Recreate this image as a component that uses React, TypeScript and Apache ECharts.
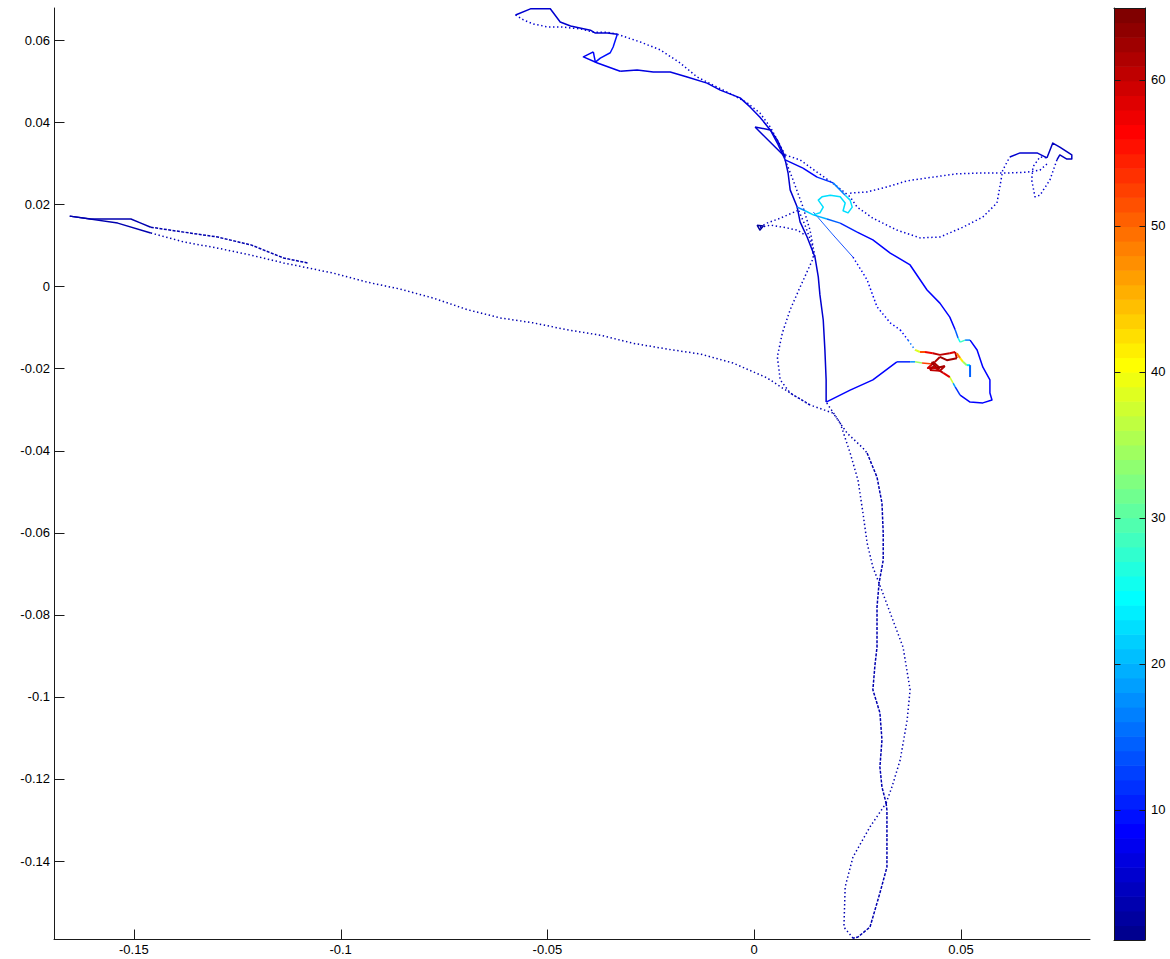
import React, { useEffect, useRef } from "react";
import * as echarts from "echarts";

// ---- axes ----
const xTicks = [-0.15, -0.1, -0.05, 0, 0.05];
const yTicks = [0.06, 0.04, 0.02, 0, -0.02, -0.04, -0.06, -0.08, -0.1, -0.12, -0.14];
const colorTicks = [10, 20, 30, 40, 50, 60];
const xRange = [-0.1693, 0.0812];
const yRange = [-0.159, 0.0678];
const colorRange = [1.1, 64.9];

// ---- trajectory pieces: [x, y, value] ----
const leftUpperSolid = [[-0.1655, 0.0171, 4], [-0.1604, 0.0164, 4], [-0.1556, 0.0164, 4], [-0.1507, 0.0164, 4], [-0.1483, 0.0154, 4], [-0.1459, 0.0144, 4]];
const leftUpperDashed = [[-0.1459, 0.0144, 4], [-0.1379, 0.0132, 4], [-0.1297, 0.012, 4], [-0.1217, 0.0101, 4], [-0.1138, 0.0069, 4], [-0.108, 0.0057, 4]];
const leftLowerSolid = [[-0.1655, 0.0171, 4], [-0.1539, 0.0154, 4], [-0.1459, 0.013, 4]];
const longDotted = [[-0.1459, 0.013, 4], [-0.1379, 0.0108, 4], [-0.1297, 0.0093, 4], [-0.1217, 0.0076, 4], [-0.1138, 0.0057, 4], [-0.108, 0.0045, 4], [-0.1017, 0.0032, 4], [-0.0935, 0.001, 4], [-0.0855, -0.0007, 4], [-0.0775, -0.0029, 4], [-0.0693, -0.0057, 4], [-0.0614, -0.0077, 4], [-0.0534, -0.0089, 4], [-0.0452, -0.0106, 4], [-0.0372, -0.0119, 4], [-0.0292, -0.0139, 4], [-0.021, -0.0153, 4], [-0.013, -0.0165, 4], [-0.0051, -0.0187, 4], [0.0031, -0.0223, 4], [0.0087, -0.026, 4], [0.0135, -0.0289, 4], [0.0191, -0.0309, 4], [0.0225, -0.0358, 4], [0.0263, -0.0394, 4], [0.0273, -0.0406, 4]];
const bottomRightTop = [[0.0273, -0.0406, 4], [0.0297, -0.0465, 4], [0.0309, -0.0528, 4], [0.0312, -0.0601, 4], [0.0312, -0.0667, 4], [0.0302, -0.0723, 4]];
const bottomLeftMid = [[0.0302, -0.0723, 4], [0.0297, -0.0781, 4], [0.0297, -0.0879, 4], [0.0292, -0.0923, 4], [0.0287, -0.0983, 4], [0.0304, -0.1039, 4], [0.0309, -0.1105, 4], [0.0304, -0.1171, 4], [0.0309, -0.122, 4], [0.0319, -0.1259, 4]];
const bottomLoopRight = [[0.0319, -0.1259, 4], [0.0321, -0.1276, 4], [0.0321, -0.1415, 4], [0.0304, -0.1478, 4], [0.028, -0.1561, 4], [0.0251, -0.1585, 4], [0.0239, -0.1588, 4]];
const bottomLoopLeft = [[0.0239, -0.1588, 4], [0.0217, -0.1561, 4], [0.022, -0.1463, 4], [0.0239, -0.139, 4], [0.028, -0.1317, 4], [0.0319, -0.1259, 4]];
const bottomRightMid = [[0.0319, -0.1259, 4], [0.0333, -0.122, 4], [0.0353, -0.1154, 4], [0.037, -0.1056, 4], [0.0377, -0.0983, 4], [0.0372, -0.0952, 4], [0.036, -0.0879, 4], [0.0329, -0.0796, 4], [0.0302, -0.0723, 4]];
const bottomLeftTop = [[0.0302, -0.0723, 4], [0.0287, -0.0684, 4], [0.0273, -0.0625, 4], [0.0263, -0.0552, 4], [0.0251, -0.0472, 4], [0.0232, -0.0406, 4], [0.0208, -0.0333, 4], [0.0174, -0.0282, 4]];
const teardrop = [[0.0104, 0.0193, 5], [0.0123, 0.0149, 5], [0.014, 0.0101, 5], [0.0143, 0.0069, 5], [0.013, 0.004, 5], [0.0111, -0.0002, 5], [0.0087, -0.0057, 5], [0.0068, -0.0114, 5], [0.0056, -0.0172, 5], [0.0063, -0.0228, 5], [0.0087, -0.026, 5], [0.0135, -0.0289, 5]];
const arrowLower = [[0.0014, 0.0144, 5], [0.0039, 0.0149, 5], [0.007, 0.0144, 5], [0.0104, 0.0137, 5], [0.0123, 0.0125, 5]];
const arrowUpper = [[0.0014, 0.0144, 5], [0.0031, 0.0154, 5], [0.0063, 0.0166, 5], [0.0104, 0.0184, 5]];
const arrowHead = [[0.0007, 0.0149, 3], [0.0022, 0.0147, 3], [0.0014, 0.0137, 3], [0.0007, 0.0149, 3]];
const solidVertical = [[0.0075, 0.0308, 6], [0.0082, 0.0276, 6], [0.0087, 0.0235, 6], [0.0104, 0.0193, 6], [0.0111, 0.0157, 6], [0.0128, 0.012, 6], [0.0147, 0.0071, 6], [0.0155, 0.0023, 6], [0.0159, -0.0021, 6], [0.0167, -0.0082, 6], [0.0171, -0.0155, 6], [0.0174, -0.0228, 6], [0.0174, -0.0282, 6]];
const dottedCrossDown = [[0.0075, 0.0308, 5], [0.0094, 0.0259, 5], [0.0118, 0.0193, 5], [0.0135, 0.0137, 5], [0.0147, 0.0071, 5]];
const topLoopUpper = [[-0.0331, 0.0614, 6], [-0.0355, 0.0617, 6], [-0.0384, 0.0617, 6], [-0.0396, 0.0624, 6], [-0.0444, 0.0634, 6], [-0.0469, 0.0644, 6], [-0.0493, 0.0676, 6], [-0.0541, 0.0676, 6], [-0.0577, 0.0661, 6]];
const topLoopLower = [[-0.0577, 0.0661, 6], [-0.0558, 0.0649, 6], [-0.0534, 0.0639, 6], [-0.05, 0.0632, 6], [-0.0469, 0.0632, 6], [-0.042, 0.0627, 6], [-0.0389, 0.0619, 6], [-0.0355, 0.0619, 6], [-0.0331, 0.0614, 6]];
const topDotted = [[-0.0331, 0.0614, 6], [-0.0275, 0.0595, 6], [-0.0227, 0.0576, 6], [-0.0179, 0.0544, 6], [-0.0138, 0.051, 6], [-0.0099, 0.049, 6], [-0.0051, 0.0466, 6], [-0.0017, 0.0447, 6], [0.0014, 0.0422, 6], [0.0039, 0.0388, 6], [0.0056, 0.0356, 6], [0.0075, 0.032, 6]];
const topSolid = [[-0.0331, 0.0614, 10], [-0.0341, 0.0583, 10], [-0.0348, 0.0569, 10], [-0.0372, 0.0556, 10], [-0.0384, 0.0546, 10], [-0.0389, 0.0571, 8], [-0.0413, 0.0559, 8], [-0.0379, 0.0544, 8], [-0.0324, 0.0524, 7], [-0.0283, 0.0527, 7], [-0.0244, 0.0522, 7], [-0.0203, 0.0522, 7], [-0.0162, 0.051, 7], [-0.0114, 0.0495, 7], [-0.0082, 0.0478, 7], [-0.0034, 0.0459, 7], [-0.001, 0.0437, 7], [0.0014, 0.0412, 7], [0.0039, 0.0381, 7], [0.0056, 0.0349, 7], [0.0075, 0.0308, 7]];
const smallQuad = [[0.0002, 0.0388, 6], [0.0039, 0.0381, 6], [0.0056, 0.0356, 6], [0.0075, 0.0315, 6], [0.0002, 0.0388, 6]];
const rightLoopLower = [[0.0075, 0.032, 6], [0.0111, 0.0308, 6], [0.0152, 0.0278, 6], [0.0196, 0.0247, 6], [0.0232, 0.0218, 6], [0.0249, 0.0193, 6], [0.0287, 0.0166, 6], [0.0345, 0.0137, 6], [0.0401, 0.0118, 6], [0.0449, 0.012, 6], [0.0505, 0.0144, 6], [0.0553, 0.0169, 6], [0.0587, 0.0203, 6], [0.0594, 0.0242, 6], [0.0601, 0.0283, 6], [0.0618, 0.0315, 6]];
const rightLoopLowerEnd = [[0.0618, 0.0315, 6], [0.0643, 0.0325, 6], [0.0684, 0.0325, 6], [0.0708, 0.0313, 6]];
const rightLoopUpper = [[0.0232, 0.0227, 6], [0.0273, 0.023, 6], [0.0321, 0.0242, 6], [0.037, 0.0257, 6], [0.0432, 0.0266, 6], [0.049, 0.0274, 6], [0.0546, 0.0276, 6], [0.0611, 0.0276, 6], [0.0659, 0.0278, 6], [0.0691, 0.0283, 6], [0.071, 0.03, 6]];
const rightLoopFlag = [[0.0708, 0.0313, 5], [0.0722, 0.0349, 5], [0.0739, 0.0339, 5], [0.0768, 0.032, 5], [0.0768, 0.031, 5], [0.0756, 0.031, 5], [0.0739, 0.032, 5], [0.0732, 0.0308, 5]];
const rightLoopTail = [[0.0732, 0.0308, 6], [0.0715, 0.0259, 6], [0.0691, 0.0222, 6], [0.0679, 0.0218, 6], [0.0671, 0.0259, 6], [0.0674, 0.0291, 6], [0.0691, 0.0315, 6], [0.0708, 0.0313, 6]];
const toCyan = [[0.0075, 0.0308, 8], [0.0118, 0.0288, 8], [0.0152, 0.0266, 10], [0.0191, 0.0252, 14], [0.022, 0.0222, 20]];
const cyanLoop = [[0.022, 0.0222, 23], [0.0232, 0.021, 23], [0.0237, 0.0193, 23], [0.0227, 0.0179, 23], [0.0215, 0.0184, 23], [0.022, 0.0203, 23], [0.0208, 0.0218, 23], [0.0184, 0.0222, 23], [0.0164, 0.0218, 23], [0.0155, 0.021, 23], [0.0167, 0.0193, 23], [0.0159, 0.0179, 23], [0.0143, 0.0174, 23], [0.0123, 0.0184, 20], [0.0104, 0.0193, 16]];
const cyanToRed = [[0.0143, 0.0174, 22], [0.0176, 0.0164, 18], [0.0208, 0.0154, 12], [0.0249, 0.0132, 9], [0.0287, 0.0113, 9], [0.0329, 0.0081, 9], [0.0377, 0.0052, 9], [0.0418, -0.0009, 9], [0.0449, -0.0041, 9], [0.0473, -0.0075, 9], [0.0486, -0.0106, 9], [0.0493, -0.0126, 20], [0.0498, -0.0136, 32], [0.051, -0.0131, 25], [0.0522, -0.0131, 9], [0.0539, -0.0155, 9], [0.0553, -0.0197, 9], [0.057, -0.0228, 9], [0.057, -0.026, 9], [0.0575, -0.0277, 9], [0.0553, -0.0284, 9], [0.0522, -0.0282, 9], [0.0498, -0.0265, 9], [0.0486, -0.0245, 14], [0.0481, -0.0236, 24], [0.0473, -0.0221, 50]];
const thinLine = [[0.0143, 0.0181, 14], [0.0191, 0.0125, 13], [0.0239, 0.0071, 12]];
const thinDotted = [[0.0239, 0.0071, 8], [0.0273, 0.0016, 8], [0.0297, -0.005, 8], [0.0329, -0.0089, 8], [0.0353, -0.0106, 8], [0.0372, -0.0131, 10], [0.0389, -0.0155, 22]];
const solidToRed = [[0.0174, -0.0282, 9], [0.0232, -0.0253, 9], [0.0287, -0.0228, 9], [0.0345, -0.0184, 9], [0.0377, -0.0184, 12], [0.0389, -0.0184, 24], [0.0406, -0.0187, 44], [0.0432, -0.0189, 60]];
const redCluster = [[0.0389, -0.0155, 30], [0.0401, -0.016, 46], [0.0413, -0.016, 56], [0.0432, -0.0163, 58], [0.0449, -0.0167, 62], [0.0473, -0.0163, 58], [0.0486, -0.016, 58], [0.049, -0.0175, 62], [0.0466, -0.018, 62], [0.0449, -0.0172, 62], [0.0437, -0.0184, 60], [0.042, -0.0199, 58], [0.0449, -0.0199, 60], [0.0432, -0.0184, 62], [0.043, -0.0187, 62], [0.0442, -0.0199, 62], [0.0461, -0.0194, 62], [0.0449, -0.0206, 60], [0.0425, -0.0204, 60], [0.0432, -0.0195, 62], [0.0457, -0.0211, 58], [0.0473, -0.0221, 58]];
const yellowPiece = [[0.049, -0.0163, 52], [0.0498, -0.0175, 44], [0.0505, -0.0184, 38], [0.0514, -0.0192, 30], [0.0522, -0.0192, 18], [0.0522, -0.0221, 12]];

const segments = [
  { pts: leftUpperSolid, style: "solid" },
  { pts: leftUpperDashed, style: "dense" },
  { pts: leftLowerSolid, style: "solid" },
  { pts: longDotted, style: "dotted" },
  { pts: bottomRightTop, style: "dense" },
  { pts: bottomLeftMid, style: "dense" },
  { pts: bottomLoopRight, style: "dense" },
  { pts: bottomLoopLeft, style: "dotted" },
  { pts: bottomRightMid, style: "dotted" },
  { pts: bottomLeftTop, style: "dotted" },
  { pts: teardrop, style: "dotted" },
  { pts: arrowLower, style: "dotted" },
  { pts: arrowUpper, style: "dotted" },
  { pts: arrowHead, style: "solid" },
  { pts: dottedCrossDown, style: "dotted" },
  { pts: solidVertical, style: "solid" },
  { pts: topLoopUpper, style: "solid" },
  { pts: topLoopLower, style: "dotted" },
  { pts: topDotted, style: "dotted" },
  { pts: topSolid, style: "solid" },
  { pts: smallQuad, style: "solid" },
  { pts: rightLoopLower, style: "dotted" },
  { pts: rightLoopLowerEnd, style: "solid" },
  { pts: rightLoopUpper, style: "dotted" },
  { pts: rightLoopFlag, style: "solid" },
  { pts: rightLoopTail, style: "dotted" },
  { pts: thinLine, style: "thin" },
  { pts: thinDotted, style: "dotted" },
  { pts: toCyan, style: "solid" },
  { pts: cyanToRed, style: "solid" },
  { pts: cyanLoop, style: "solid" },
  { pts: solidToRed, style: "solid" },
  { pts: redCluster, style: "heavy" },
  { pts: yellowPiece, style: "heavy" },
];

// ---- MATLAB jet(64) colormap ----
function u(j: number) {
  if (j < 1 || j > 47) return 0;
  if (j <= 16) return j / 16;
  if (j <= 31) return 1;
  return (48 - j) / 16;
}
function jetIndexColor(k: number) {
  const r = u(k - 24), g = u(k - 8), b = u(k + 8);
  return `rgb(${Math.round(r * 255)},${Math.round(g * 255)},${Math.round(b * 255)})`;
}
function valueIndex(v: number) {
  const k = Math.floor(((v - colorRange[0]) / (colorRange[1] - colorRange[0])) * 64) + 1;
  return Math.max(1, Math.min(64, k));
}
function jet(v: number) {
  return jetIndexColor(valueIndex(v));
}

const styleMap: Record<string, any> = {
  solid: { width: 1.5, type: "solid" },
  heavy: { width: 2, type: "solid" },
  dense: { width: 1.5, type: [3, 1.4] },
  dotted: { width: 1.5, type: [1.4, 2.6] },
  thin: { width: 0.9, type: "solid" },
};

function buildTrajectorySeries() {
  const out: any[] = [];
  segments.forEach((seg) => {
    const st = styleMap[seg.style];
    let cur: number[][] | null = null;
    let curColor = "";
    for (let i = 0; i < seg.pts.length - 1; i++) {
      const a = seg.pts[i];
      const b = seg.pts[i + 1];
      const color = jet((a[2] + b[2]) / 2);
      if (!cur || color !== curColor) {
        cur = [[a[0], a[1]]];
        curColor = color;
        out.push({
          type: "line",
          xAxisIndex: 0,
          yAxisIndex: 0,
          data: cur,
          showSymbol: false,
          symbol: "none",
          silent: true,
          z: 2,
          lineStyle: { color, width: st.width, type: st.type, cap: "butt", join: "round" },
        });
      }
      cur.push([b[0], b[1]]);
    }
  });
  return out;
}

const fmt = (v: number) => String(+Number(v).toFixed(4));
const font = "Liberation Sans";
const axisColor = "#1a1a1a";

// tick marks drawn through the axes (value -> pixel), length in px
function tickSeries(xi: number, yi: number, values: number[], dir: "x" | "y", pinned: number, len: number, sign: number) {
  return {
    type: "custom",
    xAxisIndex: xi,
    yAxisIndex: yi,
    silent: true,
    clip: false,
    z: 20,
    data: values.map((v) => (dir === "x" ? [v, pinned] : [pinned, v])),
    encode: { x: 0, y: 1 },
    renderItem: (params: any, api: any) => {
      const p = api.coord([api.value(0), api.value(1)]);
      const x1 = Math.round(p[0]) + 0.5;
      const y1 = Math.round(p[1]) + 0.5;
      const shape =
        dir === "x"
          ? { x1, y1, x2: x1, y2: y1 + sign * len }
          : { x1, y1, x2: x1 + sign * len, y2: y1 };
      return { type: "line", shape, style: { stroke: axisColor, lineWidth: 1 } };
    },
  };
}

export default function App() {
  const ref = useRef<HTMLDivElement>(null);
  useEffect(() => {
    if (!ref.current) return;
    const chart = echarts.init(ref.current, undefined, { renderer: "svg" });
    const step = (colorRange[1] - colorRange[0]) / 64;
    const bands = Array.from({ length: 64 }, (_, i) => [0, colorRange[0] + i * step, colorRange[0] + (i + 1) * step]);
    const option: any = {
      animation: false,
      backgroundColor: "#ffffff",
      grid: [
        { left: 54, top: 8, width: 1036, height: 931, containLabel: false },
        { left: 1114, top: 8, width: 31, height: 932, containLabel: false },
      ],
      xAxis: [
        {
          type: "value", gridIndex: 0, min: xRange[0], max: xRange[1], position: "bottom", z: 10,
          axisLine: { show: true, onZero: false, lineStyle: { color: axisColor, width: 1 } },
          axisTick: { show: false },
          axisLabel: { show: true, customValues: xTicks, formatter: fmt, margin: 4, color: "#000", fontFamily: font, fontSize: 13 },
          splitLine: { show: false },
        },
        {
          type: "value", gridIndex: 1, min: 0, max: 1, position: "bottom", z: 10,
          axisLine: { show: true, onZero: false, lineStyle: { color: axisColor } },
          axisTick: { show: false }, axisLabel: { show: false }, splitLine: { show: false },
        },
        {
          type: "value", gridIndex: 1, min: 0, max: 1, position: "top", z: 10,
          axisLine: { show: true, onZero: false, lineStyle: { color: axisColor } },
          axisTick: { show: false }, axisLabel: { show: false }, splitLine: { show: false },
        },
      ],
      yAxis: [
        {
          type: "value", gridIndex: 0, min: yRange[0], max: yRange[1], position: "left", z: 10,
          axisLine: { show: true, onZero: false, lineStyle: { color: axisColor, width: 1 } },
          axisTick: { show: false },
          axisLabel: { show: true, customValues: yTicks, formatter: fmt, margin: 4, color: "#000", fontFamily: font, fontSize: 13 },
          splitLine: { show: false },
        },
        {
          type: "value", gridIndex: 1, min: colorRange[0], max: colorRange[1], position: "right", z: 10,
          axisLine: { show: true, onZero: false, lineStyle: { color: axisColor } },
          axisTick: { show: false },
          axisLabel: { show: true, customValues: colorTicks, margin: 6, color: "#000", fontFamily: font, fontSize: 13 },
          splitLine: { show: false },
        },
        {
          type: "value", gridIndex: 1, min: colorRange[0], max: colorRange[1], position: "left", z: 10,
          axisLine: { show: true, onZero: false, lineStyle: { color: axisColor } },
          axisTick: { show: false },
          axisLabel: { show: false },
          splitLine: { show: false },
        },
      ],
      series: [
        {
          type: "custom",
          xAxisIndex: 1,
          yAxisIndex: 1,
          silent: true,
          z: 0,
          data: bands,
          encode: { x: 0, y: [1, 2] },
          renderItem: (params: any, api: any) => {
            const lo = api.value(1);
            const hi = api.value(2);
            const a = api.coord([0, lo]);
            const b = api.coord([1, hi]);
            return {
              type: "rect",
              shape: { x: a[0], y: b[1], width: b[0] - a[0], height: a[1] - b[1] + 0.6 },
              style: { fill: jet((lo + hi) / 2) },
            };
          },
        },
        ...buildTrajectorySeries(),
        tickSeries(0, 0, xTicks, "x", yRange[0], 10, -1),
        tickSeries(0, 0, yTicks, "y", xRange[0], 10, 1),
        tickSeries(1, 1, colorTicks, "y", 0, 6, 1),
        tickSeries(1, 1, colorTicks, "y", 1, 6, -1),
      ],
    };
    chart.setOption(option);
    return () => chart.dispose();
  }, []);
  return <div ref={ref} style={{ position: "fixed", left: 0, top: 0, width: 1170, height: 959, background: "#fff" }} />;
}
